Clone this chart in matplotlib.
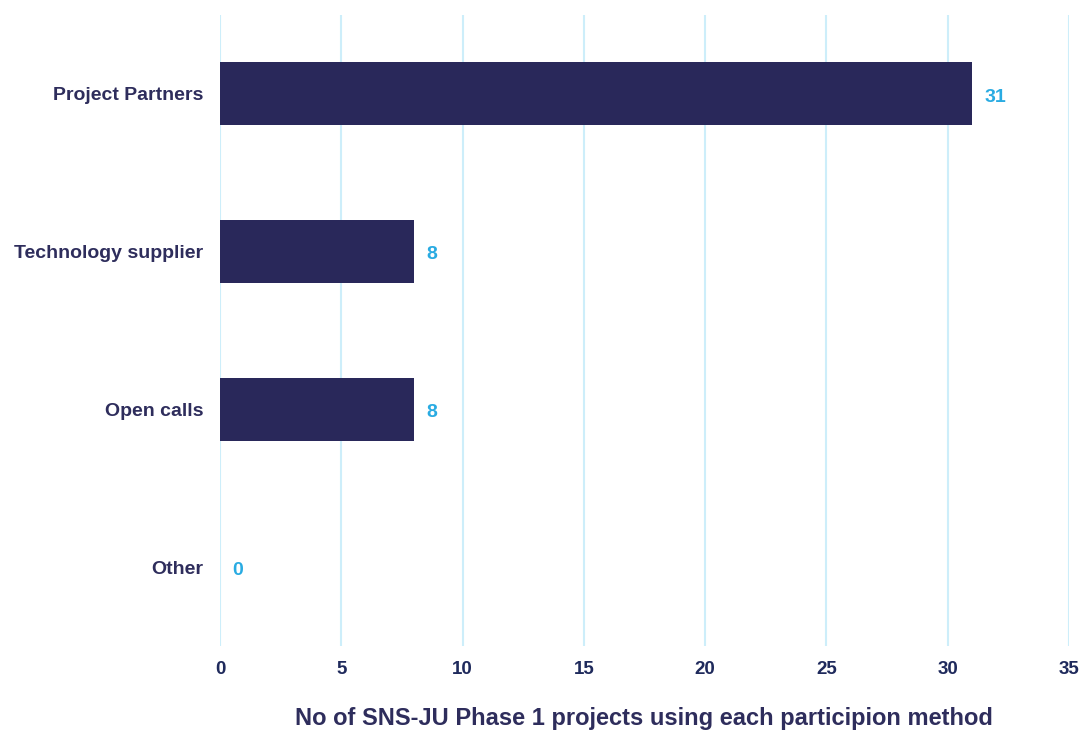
import matplotlib.pyplot as plt

# participation methods, top to bottom
categories = ["Project Partners", "Technology supplier", "Open calls", "Other"]
counts = [31, 8, 8, 0]
xticks = [0, 5, 10, 15, 20, 25, 30, 35]

navy = "#29285a"
label_col = "#2e2d5c"
value_col = "#29abe2"
grid_col = "#cdeefa"

plt.rcParams["font.family"] = ["Liberation Sans", "DejaVu Sans"]
plt.rcParams["font.weight"] = "bold"

fig = plt.figure(figsize=(10.83, 7.31), dpi=100)
ax = fig.add_axes([220 / 1083, 1 - 646 / 731, 849 / 1083, 631 / 731])

ypos = list(range(len(categories)))
ax.barh(ypos, counts, height=0.4, color=navy, zorder=3)

# value labels just right of each bar
for y, v in zip(ypos, counts):
    ax.text(v + 0.5, y + 0.02, str(v), va="center", ha="left", color=value_col,
            fontsize=14, fontweight="bold", zorder=4)

ax.set_xlim(0, 35)
ax.set_ylim(3.5, -0.5)
ax.set_xticks(xticks)
ax.set_yticks(ypos)
ax.set_yticklabels(categories)
ax.xaxis.grid(True, color=grid_col, linewidth=1.5, zorder=0)
ax.set_axisbelow(True)

for s in ax.spines.values():
    s.set_visible(False)
ax.tick_params(axis="both", length=0)
ax.tick_params(axis="y", pad=12, labelsize=14, labelcolor=label_col)
ax.tick_params(axis="x", pad=11, labelsize=13.5, labelcolor="#1f2a5c")

fig.text(643.5 / 1083, 1 - 718 / 731,
         "No of SNS-JU Phase 1 projects using each participion method",
         ha="center", va="center", fontsize=17, fontweight="bold", color=label_col)

fig.savefig("out.png", dpi=100)
